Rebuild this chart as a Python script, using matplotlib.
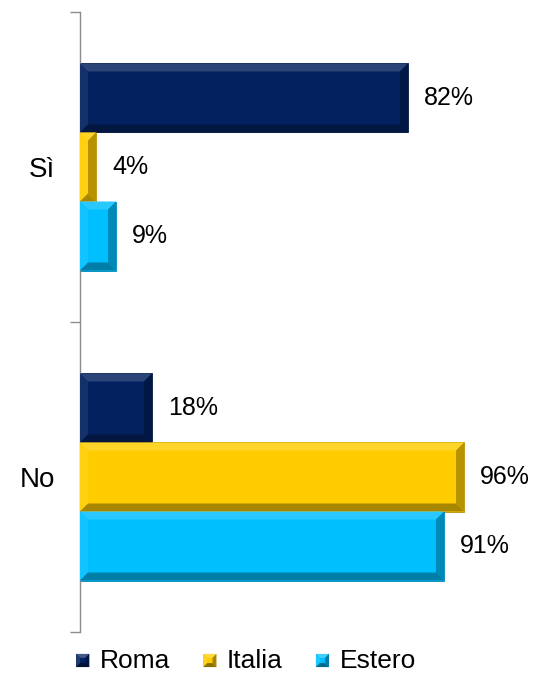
import matplotlib
matplotlib.use("Agg")
import matplotlib.pyplot as plt
from matplotlib.patches import Polygon, Rectangle
from matplotlib.legend_handler import HandlerBase
import matplotlib.colors as mcolors
import numpy as np

plt.rcParams['font.family'] = ['Liberation Sans', 'DejaVu Sans']

categories = ["Sì", "No"]
series = ["Roma", "Italia", "Estero"]
roma = [82, 18]
italia = [4, 96]
estero = [9, 91]
colors = ["#03215F", "#FFCC00", "#00BFFF"]

W, H, DPI = 533, 673, 100
fig = plt.figure(figsize=(W / DPI, H / DPI), dpi=DPI)
ax = fig.add_axes([80 / W, 41 / H, 400 / W, 620 / H])

ypos = np.arange(len(categories))
bar_h = 0.2226
values = [roma, italia, estero]


def shade(c, f):
    r, g, b = mcolors.to_rgb(c)
    if f >= 0:
        return (r + (1 - r) * f, g + (1 - g) * f, b + (1 - b) * f)
    f = -f
    return (r * (1 - f), g * (1 - f), b * (1 - f))


def bevel_polys(x0, y0, w, h, bx, by):
    # y0 is the visual top (axis inverted -> larger data y is lower)
    x1 = x0 + w
    y1 = y0 + h
    bx = min(bx, w / 2.0)
    by = min(by, abs(h) / 2.0)
    top = [(x0, y0), (x1, y0), (x1 - bx, y0 + by), (x0 + bx, y0 + by)]
    bottom = [(x0, y1), (x1, y1), (x1 - bx, y1 - by), (x0 + bx, y1 - by)]
    left = [(x0, y0), (x0 + bx, y0 + by), (x0 + bx, y1 - by), (x0, y1)]
    right = [(x1, y0), (x1 - bx, y0 + by), (x1 - bx, y1 - by), (x1, y1)]
    return top, bottom, left, right


ax.set_xlim(0, 100)
ax.set_ylim(1.5, -0.5)

# pixel -> data conversion for bevel size
px_x = 100 / 400.0
px_y = 2.0 / 620.0
bx, by = 8 * px_x, 8 * px_y

for i, (name, vals, col) in enumerate(zip(series, values, colors)):
    offs = (i - 1) * bar_h
    bars = ax.barh(ypos + offs, vals, height=bar_h, color=col,
                   edgecolor=shade(col, -0.3), linewidth=0.6, label=name, zorder=2)
    for b, v in zip(bars, vals):
        x0, y0, w, h = b.get_x(), b.get_y(), b.get_width(), b.get_height()
        top, bottom, left, right = bevel_polys(x0, y0, w, h, bx, by)
        for poly, f in ((top, 0.16), (left, 0.07), (right, -0.28), (bottom, -0.34)):
            ax.add_patch(Polygon(poly, closed=True, facecolor=shade(col, f),
                                 edgecolor='none', zorder=3))
        ax.text(v + 16 * px_x, y0 + h / 2, f"{v}%", va='center', ha='left',
                fontsize=18, color='black')

for s in ["top", "right", "bottom"]:
    ax.spines[s].set_visible(False)
ax.spines["left"].set_color("#8C8C8C")
ax.spines["left"].set_linewidth(1.0)
ax.set_xticks([])
ax.set_yticks([-0.5, 0.5, 1.5])
ax.set_yticklabels([])
ax.set_yticks(ypos, minor=True)
ax.set_yticklabels(categories, minor=True, fontsize=20)
ax.tick_params(axis='y', which='major', length=7, color="#8C8C8C", width=1.0)
ax.tick_params(axis='y', which='minor', length=0, pad=18)


class BevelHandler(HandlerBase):
    def create_artists(self, legend, orig_handle, xdescent, ydescent,
                       width, height, fontsize, trans):
        col = mcolors.to_rgb(orig_handle.get_facecolor())
        s = min(width, height)
        x0 = width - s
        y0 = (height - s) / 2
        arts = [Rectangle((x0, y0), s, s, facecolor=col, edgecolor='none', transform=trans)]
        b = s * 0.3
        x1, y1 = x0 + s, y0 + s
        polys = [
            ([(x0, y1), (x1, y1), (x1 - b, y1 - b), (x0 + b, y1 - b)], 0.25),
            ([(x0, y0), (x0 + b, y0 + b), (x0 + b, y1 - b), (x0, y1)], 0.12),
            ([(x1, y0), (x1 - b, y0 + b), (x1 - b, y1 - b), (x1, y1)], -0.35),
            ([(x0, y0), (x1, y0), (x1 - b, y0 + b), (x0 + b, y0 + b)], -0.45),
        ]
        for p, f in polys:
            arts.append(Polygon(p, closed=True, facecolor=shade(col, f),
                                edgecolor='none', transform=trans))
        return arts


handles = [Rectangle((0, 0), 1, 1, facecolor=c) for c in colors]
fig.legend(handles, series, loc='center', bbox_to_anchor=(246 / W, 1 - 661 / H),
           ncol=3, frameon=False, fontsize=19, handlelength=0.5, handleheight=0.5,
           handletextpad=0.4, columnspacing=1.25,
           handler_map={Rectangle: BevelHandler()})

fig.savefig("out.png", dpi=DPI)
